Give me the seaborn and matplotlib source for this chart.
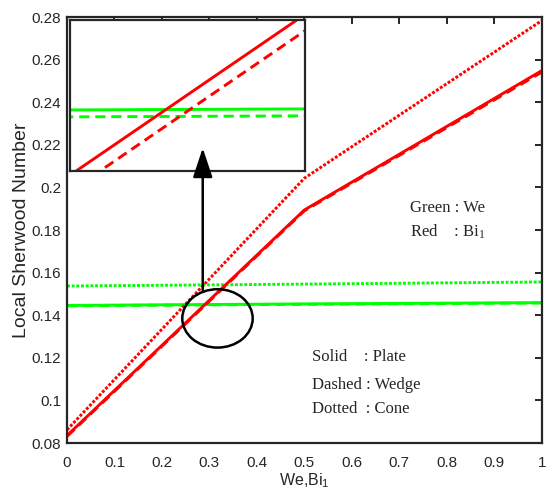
import matplotlib
matplotlib.use("Agg")
import matplotlib.pyplot as plt
from matplotlib.patches import Ellipse
import pandas as pd
import seaborn as sns

# Parameter values (We for green curves, Bi1 for red curves)
x_vals = [0.0, 0.5, 1.0]

# Local Sherwood number, red curves (varying Bi1)
red_plate = [0.0835, 0.1894, 0.2548]
red_wedge = [0.0831, 0.1890, 0.2541]
red_cone = [0.0862, 0.2043, 0.2783]

# Local Sherwood number, green curves (varying We)
green_plate = [0.14460, 0.14530, 0.14590]
green_wedge = [0.14443, 0.14513, 0.14573]
green_cone = [0.1537, 0.1546, 0.1556]

x_ticks = [0, 0.1, 0.2, 0.3, 0.4, 0.5, 0.6, 0.7, 0.8, 0.9, 1.0]
y_ticks = [0.08, 0.10, 0.12, 0.14, 0.16, 0.18, 0.20, 0.22, 0.24, 0.26, 0.28]

RED = "#ff0000"
GREEN = "#00ff00"
DARK = "#262626"
DOTTED = (0, (1.0, 0.6))
DASHED = (0, (3.5, 2.0))

sns.set_style("white")
plt.rcParams["font.family"] = ["Liberation Sans", "DejaVu Sans"]

series = [
    (green_plate, GREEN, "-"),
    (green_wedge, GREEN, DASHED),
    (green_cone, GREEN, DOTTED),
    (red_wedge, RED, DASHED),
    (red_plate, RED, "-"),
    (red_cone, RED, DOTTED),
]

fig = plt.figure(figsize=(5.48, 4.99), dpi=100)
ax = fig.add_axes([0.1223, 0.1122, 0.8662, 0.8537])


def draw_curves(target, lw):
    for vals, color, ls in series:
        df = pd.DataFrame({"x": x_vals, "y": vals})
        sns.lineplot(data=df, x="x", y="y", ax=target, color=color,
                     linestyle=ls, linewidth=lw, estimator=None, sort=False)


draw_curves(ax, 2.1)

ax.set_xlim(0, 1)
ax.set_ylim(0.08, 0.28)
ax.set_xticks(x_ticks)
ax.set_xticklabels([f"{v:g}" for v in x_ticks])
ax.set_yticks(y_ticks)
ax.set_yticklabels([f"{v:g}" for v in y_ticks])
ax.tick_params(direction="in", top=True, right=True, length=5, width=1.4,
               color=DARK, labelcolor=DARK, labelsize=11)
ax.tick_params(axis="x", pad=9)
ax.tick_params(axis="y", pad=4)
for sp in ax.spines.values():
    sp.set_linewidth(1.6)
    sp.set_color(DARK)
ax.set_xlabel(r"We,Bi$\mathregular{_1}$", fontsize=11.5, color=DARK, labelpad=1)
ax.set_ylabel("Local Sherwood Number", fontsize=14, color=DARK, labelpad=1.5)

serif = ["Liberation Serif", "DejaVu Serif"]
ax.text(0.7225, 0.1903, "Green : We", family=serif, fontsize=12, va="center")
ax.text(0.7225, 0.1791, r"Red    : Bi$\mathregular{_1}$", family=serif,
        fontsize=12, va="center")
ax.text(0.516, 0.1204, "Solid    : Plate", family=serif, fontsize=12, va="center")
ax.text(0.516, 0.1072, "Dashed : Wedge", family=serif, fontsize=12, va="center")
ax.text(0.516, 0.0960, "Dotted  : Cone", family=serif, fontsize=12, va="center")

# Highlighted crossing region
ax.add_patch(Ellipse((0.317, 0.1385), 0.1483, 0.0274, fill=False,
                     linewidth=1.8, edgecolor="black", zorder=10))

# Zoomed view of the crossing region
inset = fig.add_axes([0.1277, 0.6573, 0.4288, 0.3026])
draw_curves(inset, 2.1)
inset.set_xlim(0.2828, 0.3014)
inset.set_ylim(0.1435, 0.1472)
inset.set_xticks([])
inset.set_yticks([])
inset.set_xlabel("")
inset.set_ylabel("")
for sp in inset.spines.values():
    sp.set_linewidth(1.6)
    sp.set_color(DARK)

inset.annotate("", xy=(0.2859, 0.2185), xycoords=ax.transData,
               xytext=(0.2859, 0.1518), textcoords=ax.transData,
               arrowprops=dict(arrowstyle="-|>,head_length=0.9,head_width=0.3",
                               color="black", linewidth=1.8, mutation_scale=20,
                               shrinkA=0, shrinkB=0),
               annotation_clip=False)

fig.savefig("out.png", dpi=100)
